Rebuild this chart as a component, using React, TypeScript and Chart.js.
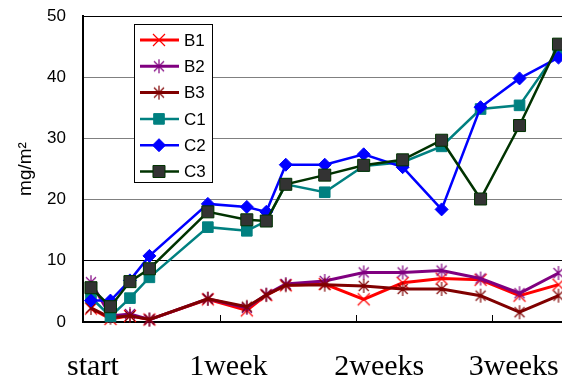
import React, { useEffect, useRef } from 'react';
import { Chart, registerables } from 'chart.js';
import { drawPoint } from 'chart.js/helpers';

Chart.register(...registerables);

// ---- data ----
const days = [0, 1, 2, 3, 6, 8, 9, 10, 12, 14, 16, 18, 20, 22, 24];
const seriesNames = ['B1', 'B2', 'B3', 'C1', 'C2', 'C3'];
const b1 = [2.2, 0.5, 1.0, 0.4, 3.7, 1.9, 4.4, 6.0, 6.2, 3.7, 6.4, 7.1, 6.9, 4.3, 6.1];
const b2 = [6.5, 1.0, 1.3, 0.4, 3.8, 2.3, 4.5, 6.2, 6.7, 8.1, 8.1, 8.4, 7.1, 4.7, 8.0];
const b3 = [2.3, 0.7, 1.0, 0.4, 3.8, 2.5, 4.4, 6.0, 6.1, 5.9, 5.4, 5.4, 4.3, 1.6, 4.3];
const c1 = [4.0, 0.9, 3.9, 7.3, 15.5, 14.9, 16.5, 22.5, 21.2, 25.5, 26.1, 28.7, 34.8, 35.4, 44.5];
const c2 = [3.5, 3.5, 6.8, 10.8, 19.3, 18.8, 18.0, 25.7, 25.7, 27.4, 25.3, 18.4, 35.1, 39.8, 43.2];
const c3 = [5.6, 2.5, 6.6, 8.7, 18.0, 16.7, 16.5, 22.5, 24.0, 25.6, 26.5, 29.7, 20.1, 32.1, 45.4];

const yMin = 0;
const yMax = 50;
const yStep = 10;
const xMin = -0.41;
const xMax = 24.18;
const xLabels = ['start', '1week', '2weeks', '3weeks'];
const xLabelPos = [0.1, 7.05, 14.8, 21.7];
const xTickMarks = [6.6, 13.6, 20.6];
const yTitle = 'mg/m²';

function makeMarker(color: string, kind: 'x' | 'star') {
  const c = document.createElement('canvas');
  c.width = 16;
  c.height = 16;
  const g = c.getContext('2d')!;
  g.strokeStyle = color;
  g.lineWidth = 1.2;
  g.beginPath();
  if (kind === 'x') {
    g.moveTo(2, 2); g.lineTo(14, 14);
    g.moveTo(14, 2); g.lineTo(2, 14);
  } else {
    g.moveTo(3, 3); g.lineTo(13, 13);
    g.moveTo(13, 3); g.lineTo(3, 13);
    g.moveTo(8, 1); g.lineTo(8, 15);
  }
  g.stroke();
  return c;
}

const SANS = '"Liberation Sans", Arial, sans-serif';

const overlayPlugin = {
  id: 'overlay',
  afterDraw(chart: any) {
    const { ctx, chartArea, scales } = chart;
    const xs = scales.x;
    ctx.save();
    // inward tick marks on x axis
    ctx.strokeStyle = '#000';
    ctx.lineWidth = 1;
    xTickMarks.forEach((v) => {
      const px = Math.round(xs.getPixelForValue(v)) + 0.5;
      ctx.beginPath();
      ctx.moveTo(px, chartArea.bottom);
      ctx.lineTo(px, chartArea.bottom - 7);
      ctx.stroke();
    });
    // x labels
    ctx.fillStyle = '#000';
    ctx.font = '30px "Liberation Serif", "Times New Roman", serif';
    ctx.textAlign = 'center';
    ctx.textBaseline = 'alphabetic';
    xLabels.forEach((t, i) => {
      ctx.fillText(t, xs.getPixelForValue(xLabelPos[i]), chartArea.bottom + 53);
    });
    // legend
    const lx = chartArea.left + 51;
    const ly = chartArea.top + 8;
    const lw = 78;
    const lh = 158;
    ctx.fillStyle = '#fff';
    ctx.fillRect(lx, ly, lw, lh);
    ctx.strokeStyle = '#000';
    ctx.lineWidth = 1;
    ctx.strokeRect(lx + 0.5, ly + 0.5, lw, lh);
    chart.data.datasets.forEach((ds: any, i: number) => {
      const cy = ly + 16 + i * 26.3;
      ctx.strokeStyle = ds.borderColor;
      ctx.lineWidth = ds.borderWidth;
      ctx.beginPath();
      ctx.moveTo(lx + 6, cy);
      ctx.lineTo(lx + 45, cy);
      ctx.stroke();
      ctx.fillStyle = ds.pointBackgroundColor;
      ctx.strokeStyle = ds.pointBorderColor;
      ctx.lineWidth = ds.pointBorderWidth;
      drawPoint(ctx, { pointStyle: ds.pointStyle, radius: ds.pointRadius, borderWidth: ds.pointBorderWidth, rotation: 0 } as any, lx + 25, cy);
      ctx.fillStyle = '#000';
      ctx.font = '17px ' + SANS;
      ctx.textAlign = 'left';
      ctx.textBaseline = 'middle';
      ctx.fillText(ds.label, lx + 50, cy + 1);
    });
    ctx.restore();
  },
};

export default function App() {
  const ref = useRef<HTMLCanvasElement>(null);
  useEffect(() => {
    const mk = (vals: number[]) => days.map((d, i) => ({ x: d, y: vals[i] }));
    const values = [b1, b2, b3, c1, c2, c3];
    const lineColors = ['#FF0000', '#800080', '#800000', '#008080', '#0000FF', '#003300'];
    const fills = ['#FF0000', '#800080', '#800000', '#008080', '#0000FF', '#333333'];
    const styles: any[] = [
      makeMarker('#FF0000', 'x'),
      makeMarker('#800080', 'star'),
      makeMarker('#800000', 'star'),
      'rect',
      'rectRot',
      'rect',
    ];
    const radii = [8, 8, 8, 7.5, 6.5, 8.5];
    const widths = [3, 3, 3, 2.5, 2.5, 2.5];
    const datasets = seriesNames.map((name, i) => ({
      label: name,
      data: mk(values[i]),
      borderColor: lineColors[i],
      backgroundColor: fills[i],
      borderWidth: widths[i],
      pointStyle: styles[i],
      pointRadius: radii[i],
      pointHoverRadius: radii[i],
      pointBackgroundColor: fills[i],
      pointBorderColor: lineColors[i],
      pointBorderWidth: 1,
      tension: 0,
      clip: false as any,
      order: 6 - i,
    }));

    const chart = new Chart(ref.current!, {
      type: 'line',
      data: { datasets },
      options: {
        animation: false,
        responsive: false,
        devicePixelRatio: 1,
        events: [],
        layout: { autoPadding: false, padding: { top: 16, right: 0, bottom: 0, left: 0 } },
        plugins: { legend: { display: false }, tooltip: { enabled: false } },
        scales: {
          x: {
            type: 'linear',
            min: xMin,
            max: xMax,
            ticks: { display: false },
            grid: { display: false, drawTicks: false },
            border: { display: true, color: '#000', width: 2 },
            afterFit: (s: any) => { s.height = 56; },
          },
          y: {
            type: 'linear',
            min: yMin,
            max: yMax,
            ticks: {
              stepSize: yStep,
              color: '#000',
              padding: 17,
              font: { family: SANS, size: 17 },
            },
            grid: {
              drawTicks: false,
              lineWidth: 1,
              color: (c: any) => (c.tick && (c.tick.value === 10 || c.tick.value === 50) ? '#000' : '#808080'),
            },
            border: { display: true, color: '#000', width: 2 },
            title: {
              display: true,
              text: yTitle,
              color: '#000',
              font: { family: SANS, size: 19 },
              padding: { top: 14, bottom: 0 },
            },
            afterFit: (s: any) => {
              s.width = 83;
              s.paddingTop = 10;
              s.paddingBottom = 10;
            },
          },
        },
      },
      plugins: [overlayPlugin],
    } as any);
    return () => chart.destroy();
  }, []);
  return (
    <div style={{ position: 'absolute', left: 0, top: 0, width: 562, height: 378, background: '#fff' }}>
      <canvas ref={ref} width={562} height={378} style={{ display: 'block', width: 562, height: 378 }} />
    </div>
  );
}
